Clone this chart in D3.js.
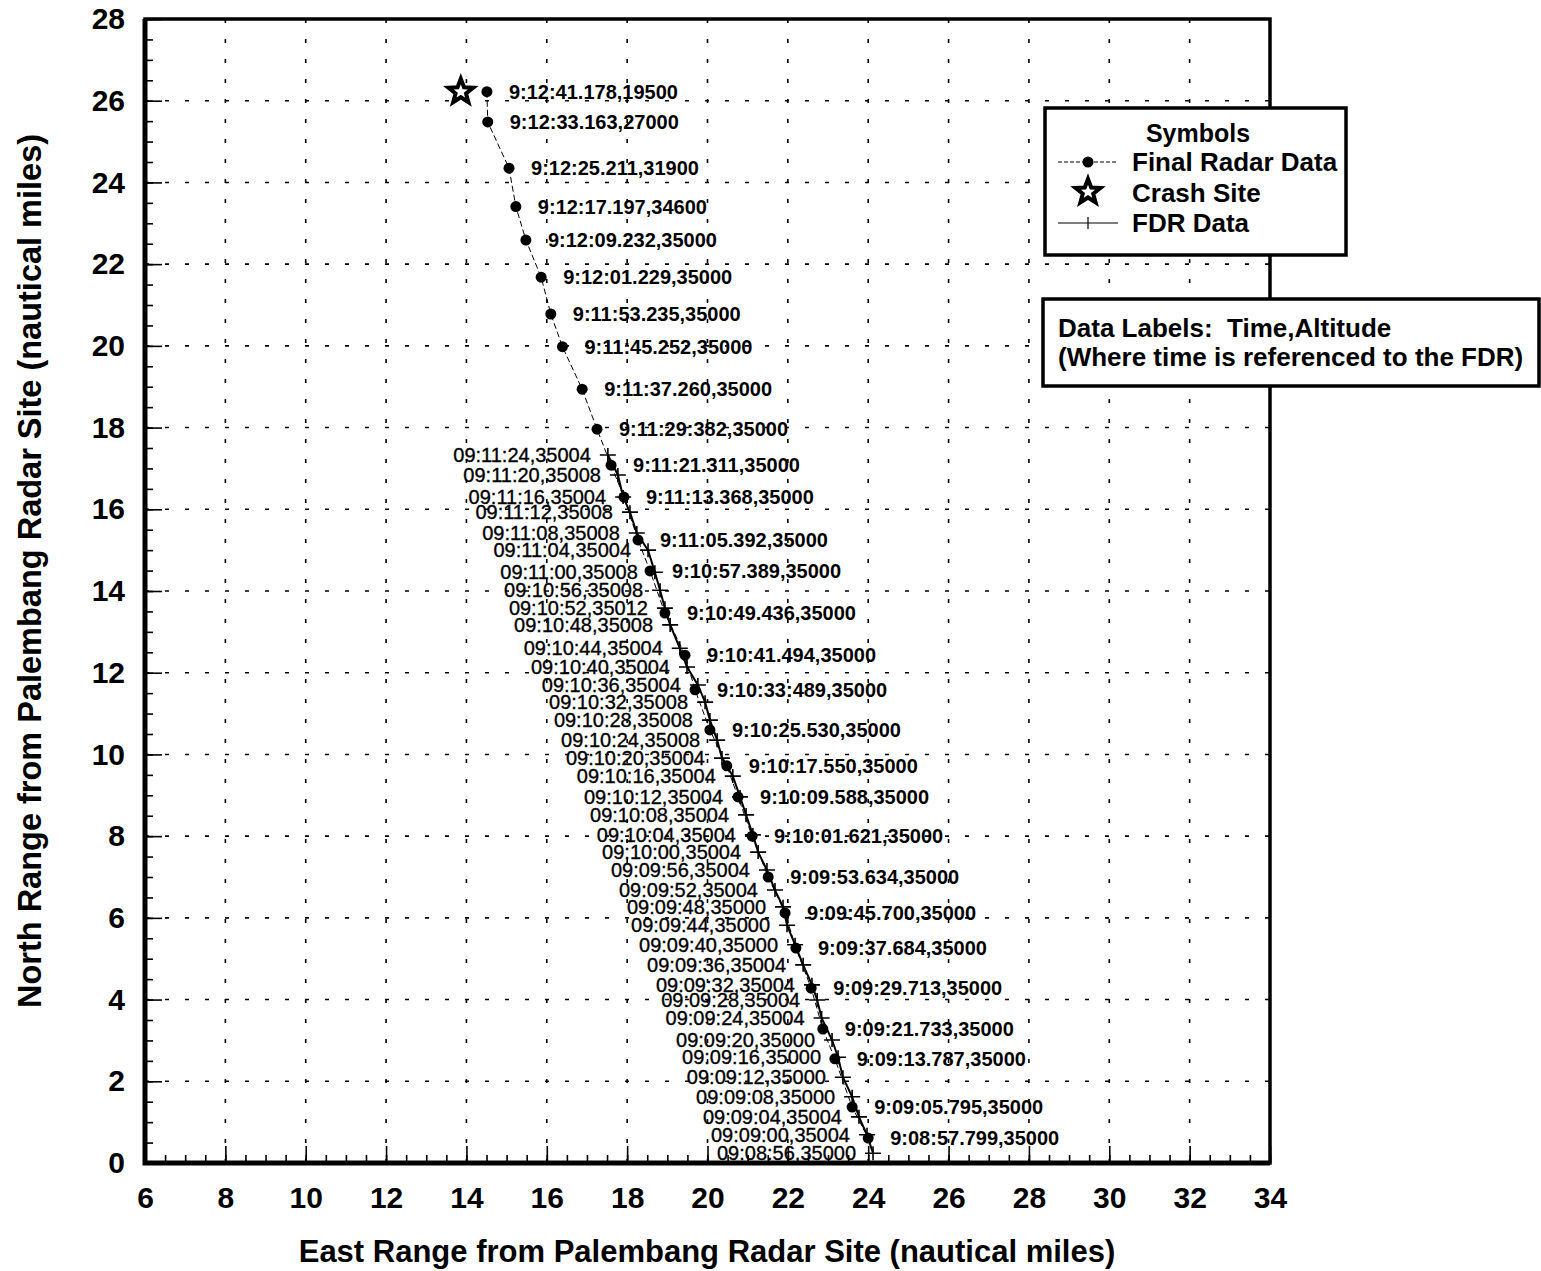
<!DOCTYPE html>
<html>
<head>
<meta charset="utf-8">
<script src="https://cdn.jsdelivr.net/npm/d3@7"></script>
<style>
  body { margin: 0; background: #fff; }
  text { font-family: "Liberation Sans", Arial, Helvetica, sans-serif; fill: #000; }
</style>
</head>
<body>
<svg id="chart" width="1541" height="1271"></svg>
<script>
// final radar returns (time, altitude, east nm, north nm)
const radarTime = ['9:12:41.178', '9:12:33.163', '9:12:25.211', '9:12:17.197', '9:12:09.232', '9:12:01.229',
    '9:11:53.235', '9:11:45.252', '9:11:37.260', '9:11:29:382', '9:11:21.311', '9:11:13.368', '9:11:05.392',
    '9:10:57.389', '9:10:49.436', '9:10:41.494', '9:10:33:489', '9:10:25.530', '9:10:17.550', '9:10:09.588',
    '9:10:01.621', '9:09:53.634', '9:09:45.700', '9:09:37.684', '9:09:29.713', '9:09:21.733', '9:09:13.787',
    '9:09:05.795', '9:08:57.799']
const radarAlt = [19500, 27000, 31900, 34600, 35000, 35000, 35000, 35000, 35000, 35000, 35000, 35000, 35000,
    35000, 35000, 35000, 35000, 35000, 35000, 35000, 35000, 35000, 35000, 35000, 35000, 35000, 35000, 35000, 35000]
const radarEast = [14.51, 14.53, 15.06, 15.23, 15.48, 15.86, 16.10, 16.39, 16.88, 17.25, 17.60, 17.92, 18.27,
    18.57, 18.94, 19.44, 19.69, 20.06, 20.48, 20.76, 21.11, 21.51, 21.93, 22.20, 22.58, 22.87, 23.17, 23.60, 24.00]
const radarNorth = [26.22, 25.48, 24.35, 23.41, 22.59, 21.68, 20.78, 19.98, 18.94, 17.96, 17.08, 16.30, 15.25,
    14.49, 13.46, 12.43, 11.58, 10.60, 9.72, 8.96, 8.00, 7.00, 6.12, 5.26, 4.28, 3.28, 2.55, 1.37, 0.61]

// flight data recorder samples
const fdrTime = ['09:11:24', '09:11:20', '09:11:16', '09:11:12', '09:11:08', '09:11:04', '09:11:00', '09:10:56',
    '09:10:52', '09:10:48', '09:10:44', '09:10:40', '09:10:36', '09:10:32', '09:10:28', '09:10:24', '09:10:20',
    '09:10:16', '09:10:12', '09:10:08', '09:10:04', '09:10:00', '09:09:56', '09:09:52', '09:09:48', '09:09:44',
    '09:09:40', '09:09:36', '09:09:32', '09:09:28', '09:09:24', '09:09:20', '09:09:16', '09:09:12', '09:09:08',
    '09:09:04', '09:09:00', '09:08:56']
const fdrAlt = [35004, 35008, 35004, 35008, 35008, 35004, 35008, 35008, 35012, 35008, 35004, 35004, 35004,
    35008, 35008, 35008, 35004, 35004, 35004, 35004, 35004, 35004, 35004, 35004, 35000, 35000, 35000, 35004,
    35004, 35004, 35004, 35000, 35000, 35000, 35000, 35004, 35004, 35000]
const fdrEast = [17.52, 17.77, 17.90, 18.07, 18.24, 18.52, 18.69, 18.82, 18.94, 19.07, 19.31, 19.49, 19.76,
    19.94, 20.06, 20.24, 20.36, 20.63, 20.81, 20.96, 21.13, 21.26, 21.48, 21.68, 21.88, 21.98, 22.18, 22.38,
    22.60, 22.73, 22.84, 23.10, 23.25, 23.37, 23.60, 23.77, 23.97, 24.12]
const fdrNorth = [17.33, 16.84, 16.30, 15.93, 15.42, 15.00, 14.46, 14.02, 13.58, 13.17, 12.60, 12.14, 11.70,
    11.28, 10.84, 10.35, 9.91, 9.47, 8.96, 8.52, 8.03, 7.61, 7.17, 6.68, 6.27, 5.82, 5.34, 4.85, 4.36, 3.99,
    3.55, 3.01, 2.59, 2.10, 1.62, 1.13, 0.69, 0.24]

const crashSite = [13.86, 26.22]

const xTicks = d3.range(6, 35, 2)
const yTicks = d3.range(0, 29, 2)

const svg = d3.select('#chart')
const plotLeft = 145, plotRight = 1270, plotTop = 19, plotBottom = 1163

const x = d3.scaleLinear().domain([6, 34]).range([plotLeft, plotRight])
const y = d3.scaleLinear().domain([0, 28]).range([plotBottom, plotTop])

const radar = radarTime.map((t, i) => ({ t, alt: radarAlt[i], e: radarEast[i], n: radarNorth[i] }))
const fdr = fdrTime.map((t, i) => ({ t, alt: fdrAlt[i], e: fdrEast[i], n: fdrNorth[i] }))

// dotted grid
svg.append('g')
    .selectAll('line')
    .data(xTicks.slice(1, -1))
    .join('line')
    .attr('x1', d => x(d)).attr('x2', d => x(d))
    .attr('y1', plotTop).attr('y2', plotBottom)
    .attr('stroke', '#000').attr('stroke-width', 1.6)
    .attr('stroke-dasharray', '4,16')
svg.append('g')
    .selectAll('line')
    .data(yTicks.slice(1, -1))
    .join('line')
    .attr('y1', d => y(d)).attr('y2', d => y(d))
    .attr('x1', plotLeft).attr('x2', plotRight)
    .attr('stroke', '#000').attr('stroke-width', 1.6)
    .attr('stroke-dasharray', '4,16')

// axes (ticks point inward)
svg.append('g')
    .attr('transform', `translate(0,${plotBottom})`)
    .call(d3.axisBottom(x).tickValues(d3.range(6, 34.01, 0.5)).tickSizeInner(-8).tickSizeOuter(0).tickFormat(''))
svg.append('g')
    .attr('transform', `translate(0,${plotBottom})`)
    .call(d3.axisBottom(x).tickValues(xTicks).tickSizeInner(-17).tickSizeOuter(0).tickPadding(24))
svg.append('g')
    .attr('transform', `translate(${plotLeft},0)`)
    .call(d3.axisLeft(y).tickValues(d3.range(0, 28.01, 0.5)).tickSizeInner(-8).tickSizeOuter(0).tickFormat(''))
svg.append('g')
    .attr('transform', `translate(${plotLeft},0)`)
    .call(d3.axisLeft(y).tickValues(yTicks).tickSizeInner(-17).tickSizeOuter(0).tickPadding(20))

svg.selectAll('.domain').remove()
svg.selectAll('.tick line').attr('stroke', '#000').attr('stroke-width', 1.6)
svg.selectAll('.tick text')
    .attr('font-family', '"Liberation Sans", Arial, sans-serif')
    .attr('font-size', 30)
    .attr('font-weight', 'bold')

// frame
svg.append('rect')
    .attr('x', plotLeft).attr('y', plotTop)
    .attr('width', plotRight - plotLeft).attr('height', plotBottom - plotTop)
    .attr('fill', 'none').attr('stroke', '#000').attr('stroke-width', 3.5)
svg.append('path')
    .attr('d', `M${plotLeft},${plotTop} V${plotBottom} H${plotRight}`)
    .attr('fill', 'none').attr('stroke', '#000').attr('stroke-width', 5)

// axis titles
svg.append('text')
    .attr('x', 707).attr('y', 1262)
    .attr('text-anchor', 'middle')
    .attr('font-size', 31).attr('font-weight', 'bold')
    .text('East Range from Palembang Radar Site (nautical miles)')
svg.append('text')
    .attr('transform', 'translate(41,571) rotate(-90)')
    .attr('text-anchor', 'middle')
    .attr('font-size', 32.5).attr('font-weight', 'bold')
    .text('North Range from Palembang Radar Site (nautical miles)')

// radar track
svg.append('path')
    .datum(radar)
    .attr('d', d3.line().x(d => x(d.e)).y(d => y(d.n)))
    .attr('fill', 'none').attr('stroke', '#000').attr('stroke-width', 1)
    .attr('stroke-dasharray', '6,3')

// fdr track
svg.append('path')
    .datum(fdr)
    .attr('d', d3.line().x(d => x(d.e)).y(d => y(d.n)))
    .attr('fill', 'none').attr('stroke', '#000').attr('stroke-width', 2)

const plus = (px, py, w, h) => `M${px - w},${py} H${px + w} M${px},${py - h} V${py + h}`

svg.append('g')
    .selectAll('path')
    .data(fdr)
    .join('path')
    .attr('d', d => plus(x(d.e), y(d.n), 8, 7))
    .attr('stroke', '#000').attr('stroke-width', 1.6)

svg.append('g')
    .selectAll('text')
    .data(fdr)
    .join('text')
    .attr('x', d => x(d.e) - 17)
    .attr('y', d => y(d.n))
    .attr('dy', '0.36em')
    .attr('text-anchor', 'end')
    .attr('font-size', 20)
    .attr('stroke', '#000').attr('stroke-width', 0.35)
    .text(d => `${d.t},${d.alt}`)

svg.append('g')
    .selectAll('circle')
    .data(radar)
    .join('circle')
    .attr('cx', d => x(d.e)).attr('cy', d => y(d.n))
    .attr('r', 5.5)
    .attr('fill', '#000')

svg.append('g')
    .selectAll('text')
    .data(radar)
    .join('text')
    .attr('x', d => x(d.e) + 22)
    .attr('y', d => y(d.n))
    .attr('dy', '0.36em')
    .attr('font-size', 20)
    .attr('font-weight', 'bold')
    .text(d => `${d.t},${d.alt}`)

// crash site star
function starPath(cx, cy, ro, ri) {
    const pts = d3.range(10).map(i => {
        const a = -Math.PI / 2 + i * Math.PI / 5
        const r = i % 2 ? ri : ro
        return [cx + r * Math.cos(a), cy + r * Math.sin(a)]
    })
    return 'M' + pts.join('L') + 'Z'
}
svg.append('path')
    .attr('d', starPath(x(crashSite[0]), y(crashSite[1]), 13, 5.5))
    .attr('fill', '#fff').attr('stroke', '#000').attr('stroke-width', 4)
    .attr('stroke-linejoin', 'miter')

// symbols legend
const lg = svg.append('g')
lg.append('rect')
    .attr('x', 1045).attr('y', 108).attr('width', 301).attr('height', 147)
    .attr('fill', '#fff').attr('stroke', '#000').attr('stroke-width', 3.5)
lg.append('text').attr('x', 1198).attr('y', 142).attr('text-anchor', 'middle')
    .attr('font-size', 25).attr('font-weight', 'bold').text('Symbols')
lg.append('line').attr('x1', 1058).attr('x2', 1118).attr('y1', 162).attr('y2', 162)
    .attr('stroke', '#000').attr('stroke-width', 1).attr('stroke-dasharray', '4,2')
lg.append('circle').attr('cx', 1088).attr('cy', 162).attr('r', 5.5).attr('fill', '#000')
lg.append('path').attr('d', starPath(1088, 192, 13, 5.5))
    .attr('fill', '#fff').attr('stroke', '#000').attr('stroke-width', 4)
lg.append('line').attr('x1', 1058).attr('x2', 1118).attr('y1', 223).attr('y2', 223)
    .attr('stroke', '#000').attr('stroke-width', 1.2)
lg.append('line').attr('x1', 1088).attr('x2', 1088).attr('y1', 217).attr('y2', 229)
    .attr('stroke', '#000').attr('stroke-width', 1.2)
const legendNames = ['Final Radar Data', 'Crash Site', 'FDR Data']
lg.selectAll('.name')
    .data(legendNames)
    .join('text')
    .attr('class', 'name')
    .attr('x', 1132)
    .attr('y', (d, i) => 171 + i * 30.5)
    .attr('font-size', 26).attr('font-weight', 'bold')
    .text(d => d)

// data label note
const note = svg.append('g')
note.append('rect')
    .attr('x', 1043).attr('y', 299).attr('width', 496).attr('height', 87)
    .attr('fill', '#fff').attr('stroke', '#000').attr('stroke-width', 3.5)
note.selectAll('text')
    .data(['Data Labels:  Time,Altitude', '(Where time is referenced to the FDR)'])
    .join('text')
    .attr('x', 1058)
    .attr('y', (d, i) => 337 + i * 29)
    .attr('font-size', 26).attr('font-weight', 'bold')
    .style('white-space', 'pre')
    .text(d => d)
</script>
</body>
</html>
